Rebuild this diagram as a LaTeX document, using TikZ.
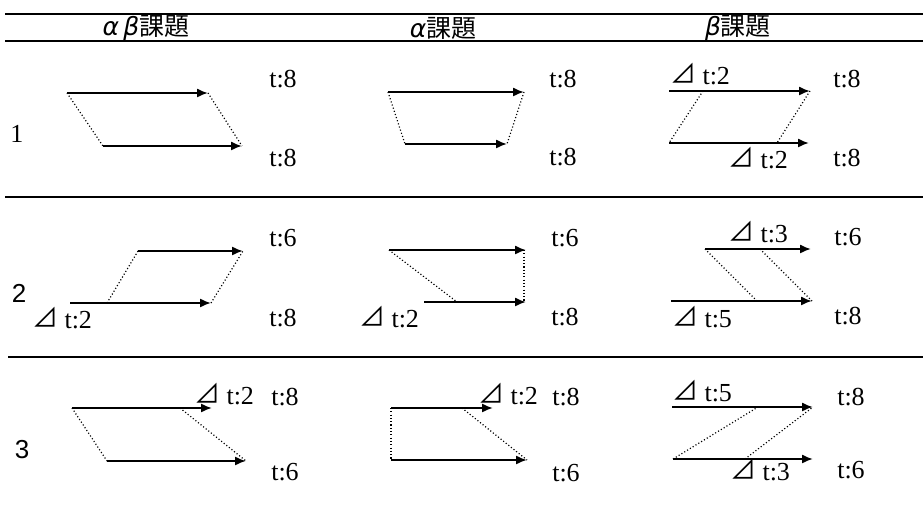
\documentclass[tikz,border=0pt]{standalone}
\usepackage{fontspec}
\newfontfamily\jp{Noto Sans CJK JP}
\newfontfamily\gr{DejaVu Sans}
\newfontfamily\lser{Liberation Serif}
\newfontfamily\lsans{Liberation Sans}
\usetikzlibrary{arrows.meta}
\newcommand{\tri}{\raisebox{0.9pt}{\jp ⊿}}
\newcommand{\ga}{{\gr\itshape α}}
\newcommand{\gb}{{\gr\itshape β}}
\begin{document}
\begin{tikzpicture}[x=0.5pt,y=-0.5pt,
  arr/.style={line width=1pt,-{Latex[length=5.5pt,width=4.6pt]}},
  dotline/.style={line width=0.6pt,dash pattern=on 0.55pt off 1.1pt},
  rule/.style={line width=1pt},
  lbl/.style={font=\lser\fontsize{13}{15}\selectfont, inner sep=0pt},
  hdr/.style={font=\jp\fontsize{12.5}{15}\selectfont, inner sep=0pt}]
\useasboundingbox (0,0) rectangle (923,508);
% rules
\coordinate (r1a) at (5,14);  \coordinate (r1b) at (923,14);
\coordinate (r2a) at (5,41);  \coordinate (r2b) at (923,41);
\coordinate (r3a) at (5,197); \coordinate (r3b) at (923,197);
\coordinate (r4a) at (8,357); \coordinate (r4b) at (923,357);
\draw[rule,line width=1.2pt] (r1a) -- (r1b);
\draw[rule] (r2a) -- (r2b);
\draw[rule] (r3a) -- (r3b);
\draw[rule] (r4a) -- (r4b);
% headers
\node[hdr] (h1) at (146,28) {\ga\,\gb 課題};
\node[hdr] (h2) at (443,28) {\ga 課題};
\node[hdr] (h3) at (738,28) {\gb 課題};
% row labels
\node[lbl] (n1) at (17,134) {1};
\node[lbl,font=\lsans\fontsize{13}{15}\selectfont] (n2) at (19,293) {2};
\node[lbl,font=\lsans\fontsize{13}{15}\selectfont] (n3) at (22,450) {3};

% ---------- row 1 ----------
% col 1
\coordinate (a11s) at (67,93);  \coordinate (a11e) at (208,93);
\coordinate (b11s) at (103,146); \coordinate (b11e) at (242,146);
\draw[arr] (a11s) -- (a11e);
\draw[arr] (b11s) -- (b11e);
\draw[dotline] (a11s) -- (b11s);
\draw[dotline] (a11e) -- (b11e);
\node[lbl] (t11a) at (283,79) {t:8};
\node[lbl] (t11b) at (283,158) {t:8};
% col 2
\coordinate (a12s) at (388,92);  \coordinate (a12e) at (524,92);
\coordinate (b12s) at (405,144); \coordinate (b12e) at (507,144);
\draw[arr] (a12s) -- (a12e);
\draw[arr] (b12s) -- (b12e);
\draw[dotline] (a12s) -- (b12s);
\draw[dotline] (a12e) -- (b12e);
\node[lbl] (t12a) at (563,79) {t:8};
\node[lbl] (t12b) at (563,157) {t:8};
% col 3
\coordinate (a13s) at (669,91);  \coordinate (a13e) at (810,91);
\coordinate (b13s) at (669,143); \coordinate (b13e) at (809,143);
\coordinate (a13m) at (703,91);  \coordinate (b13m) at (777,143);
\draw[arr] (a13s) -- (a13e);
\draw[arr] (b13s) -- (b13e);
\draw[dotline] (a13m) -- (b13s);
\draw[dotline] (a13e) -- (b13m);
\node[lbl] (d13a) at (700,74) {\tri\ t:2};
\node[lbl] (d13b) at (758,158) {\tri\ t:2};
\node[lbl] (t13a) at (847,79) {t:8};
\node[lbl] (t13b) at (847,158) {t:8};

% ---------- row 2 ----------
% col 1
\coordinate (a21s) at (138,251); \coordinate (a21e) at (243,251);
\coordinate (b21s) at (70,303);  \coordinate (b21e) at (211,303);
\coordinate (b21m) at (107,303);
\draw[arr] (a21s) -- (a21e);
\draw[arr] (b21s) -- (b21e);
\draw[dotline] (b21m) -- (a21s);
\draw[dotline] (b21e) -- (a21e);
\node[lbl] (d21) at (62,318) {\tri\ t:2};
\node[lbl] (t21a) at (283,238) {t:6};
\node[lbl] (t21b) at (283,318) {t:8};
% col 2
\coordinate (a22s) at (389,250); \coordinate (a22e) at (526,250);
\coordinate (b22s) at (424,302); \coordinate (b22e) at (526,302);
\coordinate (b22m) at (457,302);
\draw[arr] (a22s) -- (a22e);
\draw[arr] (b22s) -- (b22e);
\draw[dotline] (a22s) -- (b22m);
\draw[dotline] ([xshift=-1]a22e) -- ([xshift=-1]b22e);
\node[lbl] (d22) at (389,317) {\tri\ t:2};
\node[lbl] (t22a) at (565,238) {t:6};
\node[lbl] (t22b) at (565,317) {t:8};
% col 3
\coordinate (a23s) at (705,249); \coordinate (a23e) at (811,249);
\coordinate (b23s) at (671,301); \coordinate (b23e) at (812,301);
\coordinate (a23m) at (760,249); \coordinate (b23m) at (757,301);
\draw[arr] (a23s) -- (a23e);
\draw[arr] (b23s) -- (b23e);
\draw[dotline] (a23s) -- (b23m);
\draw[dotline] (a23m) -- (b23e);
\node[lbl] (d23a) at (758,232) {\tri\ t:3};
\node[lbl] (d23b) at (702,317) {\tri\ t:5};
\node[lbl] (t23a) at (848,237) {t:6};
\node[lbl] (t23b) at (848,316) {t:8};

% ---------- row 3 ----------
% col 1
\coordinate (a31s) at (72,408);  \coordinate (a31e) at (212,408);
\coordinate (b31s) at (107,461); \coordinate (b31e) at (246,461);
\coordinate (a31m) at (180,408);
\draw[arr] (a31s) -- (a31e);
\draw[arr] (b31s) -- (b31e);
\draw[dotline] (a31s) -- (b31s);
\draw[dotline] (a31m) -- (b31e);
\node[lbl] (d31) at (224,394) {\tri\ t:2};
\node[lbl] (t31a) at (285,397) {t:8};
\node[lbl] (t31b) at (285,472) {t:6};
% col 2
\coordinate (a32s) at (391,408); \coordinate (a32e) at (493,408);
\coordinate (b32s) at (391,460); \coordinate (b32e) at (527,460);
\coordinate (a32m) at (462,408);
\draw[arr] (a32s) -- (a32e);
\draw[arr] (b32s) -- (b32e);
\draw[dotline] (a32s) -- (b32s);
\draw[dotline] (a32m) -- (b32e);
\node[lbl] (d32) at (508,394) {\tri\ t:2};
\node[lbl] (t32a) at (566,397) {t:8};
\node[lbl] (t32b) at (566,473) {t:6};
% col 3
\coordinate (a33s) at (672,407); \coordinate (a33e) at (813,407);
\coordinate (b33s) at (673,459); \coordinate (b33e) at (813,459);
\coordinate (a33m) at (758,407); \coordinate (b33m) at (745,459);
\draw[arr] (a33s) -- (a33e);
\draw[arr] (b33s) -- (b33e);
\draw[dotline] (b33s) -- (a33m);
\draw[dotline] (b33m) -- (a33e);
\node[lbl] (d33a) at (702,391) {\tri\ t:5};
\node[lbl] (d33b) at (760,470) {\tri\ t:3};
\node[lbl] (t33a) at (851,397) {t:8};
\node[lbl] (t33b) at (851,470) {t:6};
\end{tikzpicture}
\end{document}
